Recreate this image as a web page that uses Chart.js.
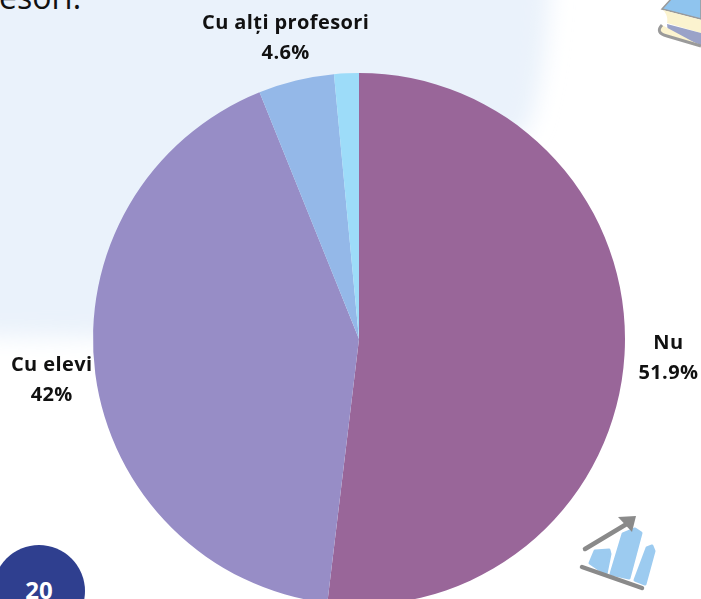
<!DOCTYPE html>
<html>
<head>
<meta charset="utf-8">
<style>
  html, body { margin: 0; padding: 0; background: #fff; width: 701px; height: 599px; overflow: hidden; }
  #decor { position: absolute; left: 0; top: 0; }
  #pieChart { position: absolute; left: 0; top: 0; }
  #topText { position: absolute; left: -1px; top: -33px; font: 400 32px/60px "Open Sans", sans-serif; color: #111; }
  #pageNo { position: absolute; left: 0; width: 78px; top: 573px; text-align: center; font: 700 24px "Open Sans", sans-serif; color: #fff; }
</style>
<script src="https://cdn.jsdelivr.net/npm/chart.js@4"></script>
</head>
<body>
<svg id="decor" width="701" height="599" viewBox="0 0 701 599">
  <defs>
    <filter id="soft" x="-10%" y="-10%" width="120%" height="120%"><feGaussianBlur stdDeviation="11"/></filter>
    <filter id="iconSoft" x="-10%" y="-10%" width="120%" height="120%"><feGaussianBlur stdDeviation="0.7"/></filter>
  </defs>
  <path d="M-40 -40 L552 -40 C548 30 545 70 530 125 L300 340 L-40 336 Z" fill="#eaf2fb" filter="url(#soft)"/>
  <circle cx="39" cy="591" r="46" fill="#2f3f8f"/>
  <g filter="url(#iconSoft)">
    <path d="M662 9 L672 -2 L701 -2 L701 19 Z" fill="#8fc4ee" stroke="#9a9a9a" stroke-width="1.5"/>
    <path d="M663 10 L701 20 L701 33 L667 23 C668 19 667 14 663 10 Z" fill="#fbf3cf"/>
    <path d="M667 24 L701 33 L701 45 L668 33 Z" fill="#9aa2c8"/>
    <path d="M662 25 C657 30 659 34 667 36 L701 46" fill="#fbf3cf" stroke="#9a9a9a" stroke-width="3"/>
    <path d="M590 563 L595 551 L609 550 L610 554 L606 574 Z" fill="#9ccbf0" stroke="#9ccbf0" stroke-width="3" stroke-linejoin="round"/>
    <path d="M611 574 L623 534 L635 529 L641 533 L629 578 Z" fill="#9ccbf0" stroke="#9ccbf0" stroke-width="3" stroke-linejoin="round"/>
    <path d="M635 580 L647 548 L652 546 L654 551 L645 584 Z" fill="#9ccbf0" stroke="#9ccbf0" stroke-width="3" stroke-linejoin="round"/>
    <path d="M582 567 L642 588" stroke="#8a8a8a" stroke-width="4.5" stroke-linecap="round"/>
    <path d="M585 549 L630 522" stroke="#8a8a8a" stroke-width="4.5" stroke-linecap="round"/>
    <path d="M618 517 L636 516 L632 532 Z" fill="#8a8a8a"/>
  </g>
</svg>
<div id="topText">esori.</div>
<div id="pageNo">20</div>
<canvas id="pieChart" width="701" height="678"></canvas>
<script>
const categories = ["Nu", "Cu elevi", "Cu alți profesori", ""];
const shares = [51.9, 42, 4.6, 1.5];
const valueLabels = ["51.9%", "42%", "4.6%", ""];
const sliceColors = ["#996699", "#978dc6", "#94b8e8", "#9ddcf9"];

// labels sit on a ring outside the pie, two lines each
const outsideLabels = {
  id: "outsideLabels",
  afterDatasetsDraw(chart) {
    const c = chart.ctx;
    c.save();
    c.font = '700 20px "Open Sans", sans-serif';
    c.letterSpacing = "0.4px";
    c.fillStyle = "#111";
    c.textAlign = "center";
    c.textBaseline = "middle";
    chart.getDatasetMeta(0).data.forEach(function (arc, i) {
      if (!categories[i]) return;
      const mid = (arc.startAngle + arc.endAngle) / 2;
      const r = arc.outerRadius + 44;
      const x = arc.x + Math.cos(mid) * r;
      const y = arc.y + Math.sin(mid) * r;
      c.fillText(categories[i], x, y - 14);
      c.fillText(valueLabels[i], x, y + 16);
    });
    c.restore();
  },
};

new Chart(document.getElementById("pieChart"), {
  type: "pie",
  data: {
    labels: categories,
    datasets: [
      {
        data: shares,
        backgroundColor: sliceColors,
        borderWidth: 0,
      },
    ],
  },
  options: {
    responsive: false,
    animation: false,
    layout: { padding: { top: 73, bottom: 73, left: 93, right: 76 } },
    plugins: {
      legend: { display: false },
      tooltip: { enabled: false },
    },
  },
  plugins: [outsideLabels],
});
</script>
</body>
</html>
